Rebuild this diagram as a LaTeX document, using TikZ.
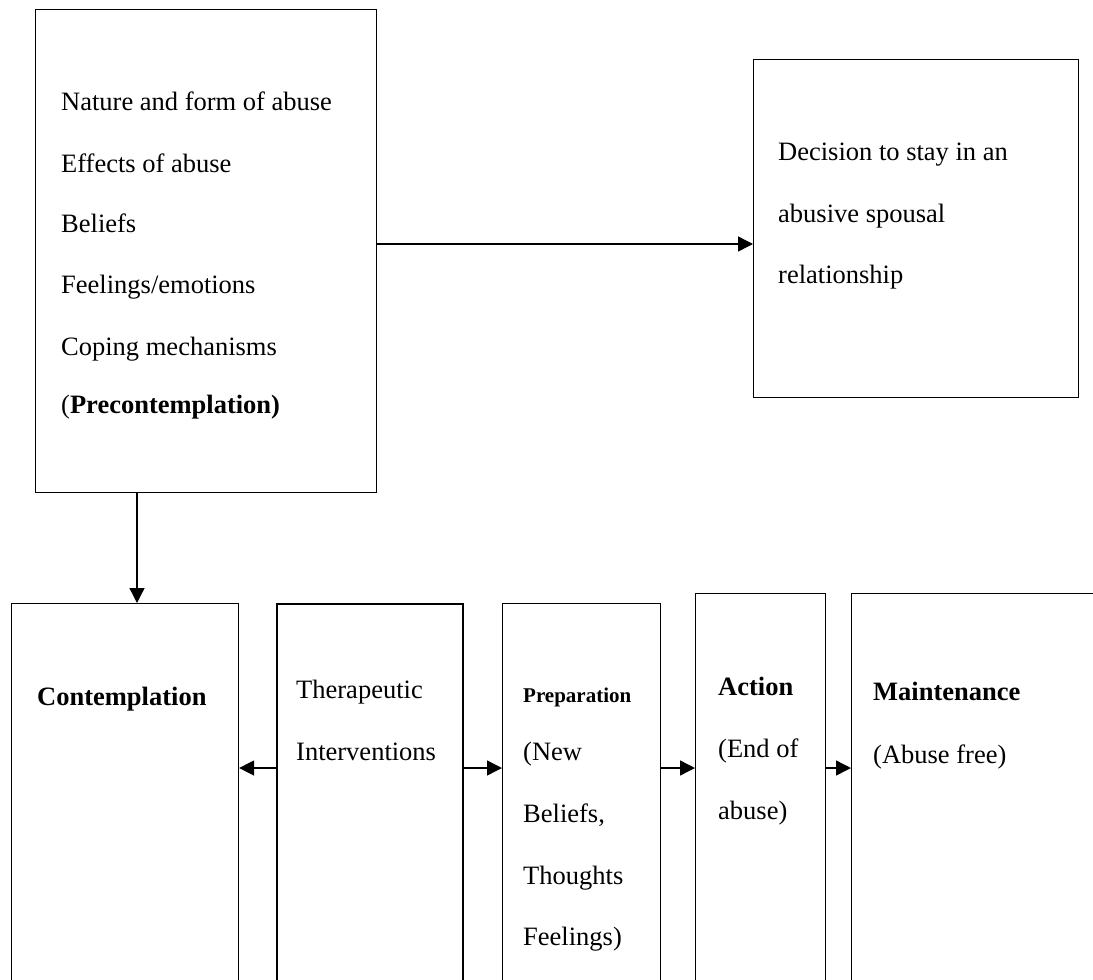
\documentclass[tikz,border=0pt]{standalone}
\usepackage{fontspec}
\setmainfont{Liberation Serif}
\usetikzlibrary{arrows.meta}
\begin{document}
\begin{tikzpicture}[x=1pt,y=-1pt,
  box/.style={draw, line width=1.1pt, inner sep=0pt, anchor=north west},
  thickbox/.style={box, line width=2.2pt},
  txt/.style={anchor=base west, inner sep=0pt, font=\fontsize{26.5}{30}\selectfont},
  smalltxt/.style={anchor=base west, inner sep=0pt, font=\fontsize{21}{24}\selectfont\bfseries},
  arr/.style={-{Triangle[length=15pt,width=15pt]}, line width=1.4pt}
]
\useasboundingbox (0,0) rectangle (1093,980);
\clip (0,0) rectangle (1093,980);

% boxes
\node[box, minimum width=341pt, minimum height=483pt] (pre) at (35,9) {};
\node[box, minimum width=325pt, minimum height=338pt] (dec) at (753,59) {};
\node[box, minimum width=227pt, minimum height=420pt] (con) at (11,603) {};
\node[thickbox, minimum width=186pt, minimum height=420pt] (ther) at (276,603) {};
\node[box, minimum width=158pt, minimum height=420pt] (prep) at (502,603) {};
\node[box, minimum width=130pt, minimum height=430pt] (act) at (695,593) {};
\node[box, minimum width=300pt, minimum height=430pt] (main) at (851,593) {};

% precontemplation text
\node[txt] (p1) at (61,110) {Nature and form of abuse};
\node[txt] (p2) at (61,172) {Effects of abuse};
\node[txt] (p3) at (61,232) {Beliefs};
\node[txt] (p4) at (61,293) {Feelings/emotions};
\node[txt] (p5) at (61,355) {Coping mechanisms};
\node[txt] (p6) at (61,413) {(\textbf{Precontemplation)}};

% decision text
\node[txt] (d1) at (778,160) {Decision to stay in an};
\node[txt] (d2) at (778,222) {abusive spousal};
\node[txt] (d3) at (778,283) {relationship};

% bottom texts
\node[txt, font=\fontsize{26.5}{30}\selectfont\bfseries] (c1) at (37,705) {Contemplation};
\node[txt] (t1) at (296,698) {Therapeutic};
\node[txt] (t2) at (296,760) {Interventions};
\node[smalltxt] (r1) at (523,702) {Preparation};
\node[txt] (r2) at (523,760) {(New};
\node[txt] (r3) at (523,822) {Beliefs,};
\node[txt] (r4) at (523,884) {Thoughts};
\node[txt] (r5) at (523,945) {Feelings)};
\node[txt, font=\fontsize{26.5}{30}\selectfont\bfseries] (a1) at (718,695) {Action};
\node[txt] (a2) at (718,757) {(End of};
\node[txt] (a3) at (718,819) {abuse)};
\node[txt, font=\fontsize{26.5}{30}\selectfont\bfseries] (m1) at (873,700) {Maintenance};
\node[txt] (m2) at (873,763) {(Abuse free)};

% connectors
\draw[arr] (pre.east |- 0,244) -- (dec.west |- 0,244);
\draw[arr] (pre.south -| 137,0) -- (con.north -| 137,0);
\draw[arr] (ther.west |- 0,768) -- (con.east |- 0,768);
\draw[arr] (ther.east |- 0,768) -- (prep.west |- 0,768);
\draw[arr] (prep.east |- 0,768) -- (act.west |- 0,768);
\draw[arr] (act.east |- 0,768) -- (main.west |- 0,768);
\end{tikzpicture}
\end{document}
